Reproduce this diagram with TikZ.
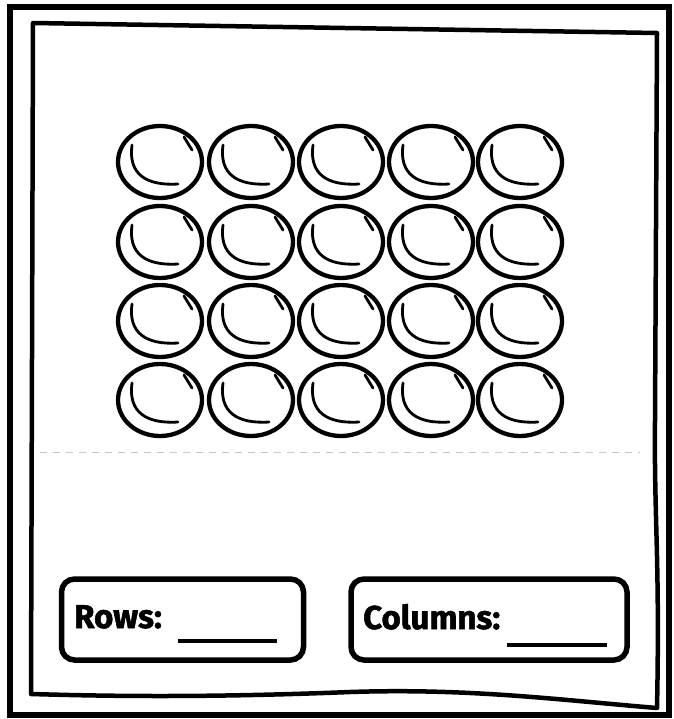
\documentclass[tikz,border=0pt]{standalone}
\usepackage{fontspec}
\setsansfont{Fira Sans}[BoldFeatures={FakeBold=1.6}]
\usepackage{tikz}
\usetikzlibrary{shapes.geometric}

\begin{document}
\begin{tikzpicture}[x=1pt,y=-1pt,
  frame/.style={line width=4.5pt,line join=round},
  bubble/.style={ellipse,draw,line width=4.3pt,minimum width=84pt,minimum height=72pt,inner sep=0pt},
  shine/.style={line width=2.8pt,line cap=round},
  answer/.style={draw,rounded corners=13pt,line width=5.5pt,minimum width=242pt,minimum height=81pt,inner sep=0pt},
  prompt/.style={font=\sffamily\bfseries\fontsize{33}{38}\selectfont,inner sep=0pt,anchor=base west},
  blank/.style={line width=3.5pt}
]
\useasboundingbox (0,0) rectangle (673,719);
% paper edges
\draw[line width=5.5pt] (10,7) rectangle (669,715);
\draw[frame] (33,23) -- (657,33) -- (655,420) .. controls (654,520) and (660,560) .. (657,708)
  .. controls (560,700) and (470,688) .. (350,692) .. controls (200,698) and (100,696) .. (31,694) -- cycle;
% array of bubbles
\foreach \c/\x in {1/160,2/251,3/341,4/431,5/520} {
  \foreach \r/\y in {1/162,2/242,3/321,4/400} {
    \node[bubble] (b\r\c) at (\x,\y) {};
    \draw[shine] (\x-28,\y-17) .. controls (\x-32,\y+12) and (\x-14,\y+24) .. (\x+18,\y+22);
    \draw[shine] (\x+24,\y-25) -- (\x+32,\y-12);
  }
}
\draw[gray!45,line width=1pt,dash pattern=on 7pt off 6pt] (40,452) -- (640,452);
% answer boxes
\node[answer] (rowsbox) at (182.5,619.5) {};
\node[answer,minimum width=276pt] (colsbox) at (489,619.5) {};
\node[prompt] (rowstext) at (74,628) {Rows:};
\node[prompt] (colstext) at (363,629) {Columns:};
\coordinate (rowsa) at (178,641);
\coordinate (rowsb) at (277,641);
\coordinate (colsa) at (507,645);
\coordinate (colsb) at (607,645);
\draw[blank] (rowsa) -- (rowsb);
\draw[blank] (colsa) -- (colsb);
\end{tikzpicture}
\end{document}
